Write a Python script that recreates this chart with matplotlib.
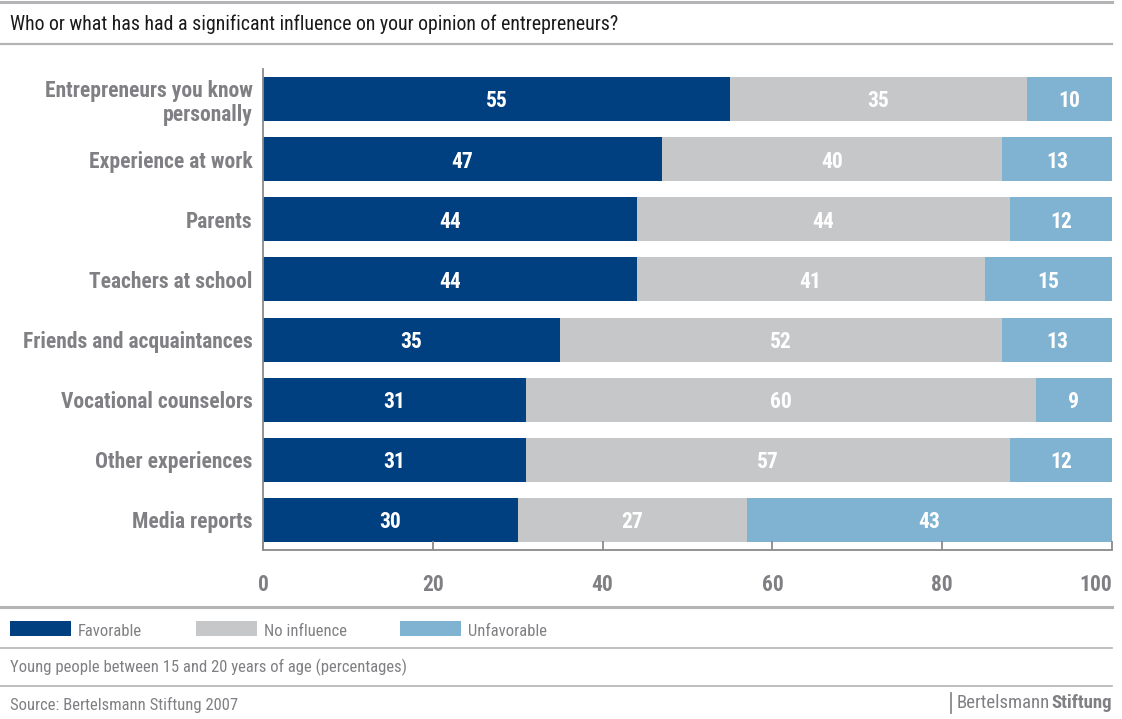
import matplotlib
matplotlib.use("Agg")
import matplotlib.pyplot as plt
from matplotlib.lines import Line2D
from matplotlib.patches import Rectangle

plt.rcParams["font.family"] = ["Roboto Condensed", "Liberation Sans Narrow", "Lato", "DejaVu Sans"]

categories = [
    "Entrepreneurs you know\npersonally",
    "Experience at work",
    "Parents",
    "Teachers at school",
    "Friends and acquaintances",
    "Vocational counselors",
    "Other experiences",
    "Media reports",
]
favorable = [55, 47, 44, 44, 35, 31, 31, 30]
no_influence = [35, 40, 44, 41, 52, 60, 57, 27]
unfavorable = [10, 13, 12, 15, 13, 9, 12, 43]
series_names = ["Favorable", "No influence", "Unfavorable"]
x_ticks = [0, 20, 40, 60, 80, 100]

colors = ["#003f80", "#c6c7c8", "#7fb3d1"]
label_grey = "#808084"
rule_grey = "#b4b4b6"

W, H = 1122, 719
fig = plt.figure(figsize=(W / 100, H / 100), dpi=100)
ax = fig.add_axes([263 / W, 1 - 550 / H, (1112 - 263) / W, (550 - 69) / H])

ypos = list(range(len(categories)))
left = [0] * len(categories)
for vals, col in zip([favorable, no_influence, unfavorable], colors):
    ax.barh(ypos, vals, left=left, height=0.73, color=col, linewidth=0)
    for y, v, l in zip(ypos, vals, left):
        ax.text(l + v / 2, y + 0.04, str(v), ha="center", va="center",
                color="white", fontsize=15.5, fontweight="bold")
    left = [a + b for a, b in zip(left, vals)]

ax.set_xlim(0, 100)
ax.set_ylim(len(categories) - 0.5, -0.5)
ax.set_xticks(x_ticks)
ax.set_xticklabels([str(t) for t in x_ticks])
ax.set_yticks(ypos)
ax.set_yticklabels(categories, fontsize=15.5, fontweight="bold",
                   color=label_grey, linespacing=1.15)
ax.tick_params(axis="y", length=0, pad=7.5)
ax.tick_params(axis="x", direction="in", length=6.5, width=1.3,
               color="#8a8a8c", pad=17, labelsize=15.5, labelcolor=label_grey)
for lbl in ax.get_xticklabels():
    lbl.set_fontweight("bold")
ax.get_xticklabels()[-1].set_horizontalalignment("right")
ax.get_xticklabels()[-1].set_x(100.6)
for side in ["top", "right"]:
    ax.spines[side].set_visible(False)
for side in ["left", "bottom"]:
    ax.spines[side].set_color("#8a8a8c")
    ax.spines[side].set_linewidth(1.3)


def rule(ypx, lw, x0=0, x1=1112):
    fig.add_artist(Line2D([x0 / W, x1 / W], [1 - ypx / H, 1 - ypx / H],
                          transform=fig.transFigure, color=rule_grey, lw=lw))


rule(2, 2.2)
rule(44, 1.6)
rule(607, 2.2)
rule(648, 1.2)
rule(686, 1.2)

fig.text(10 / W, 1 - 24 / H, "Who or what has had a significant influence on your opinion of entrepreneurs?",
         ha="left", va="center", fontsize=14.3, color="#1a1a1a")

# legend row
legend_x = [10, 196, 400]
for name, col, x in zip(series_names, colors, legend_x):
    fig.add_artist(Rectangle((x / W, 1 - 636 / H), 61 / W, 15 / H,
                             transform=fig.transFigure, color=col, lw=0))
    fig.text((x + 68) / W, 1 - 631 / H, name, ha="left", va="center",
             fontsize=12, color=label_grey)

fig.text(10 / W, 1 - 667 / H, "Young people between 15 and 20 years of age (percentages)",
         ha="left", va="center", fontsize=12, color=label_grey)
fig.text(10 / W, 1 - 705 / H, "Source: Bertelsmann Stiftung 2007",
         ha="left", va="center", fontsize=12, color=label_grey)

# logo: thin bar, "Bertelsmann" regular, "Stiftung" bold
t1 = fig.text(1112 / W, 1 - 703 / H, "Stiftung", ha="right", va="center",
              fontsize=13.5, fontweight="bold", color=label_grey)
fig.canvas.draw()
bb = t1.get_window_extent()
t2 = fig.text((bb.x0 - 1) / W, 1 - 703 / H, "Bertelsmann", ha="right", va="center",
              fontsize=13.5, color=label_grey)
fig.canvas.draw()
bx = t2.get_window_extent().x0 - 6
fig.add_artist(Line2D([bx / W, bx / W], [1 - 713 / H, 1 - 693 / H],
                      transform=fig.transFigure, color="#8a8a8c", lw=1.3))

fig.savefig("out.png", dpi=100)
